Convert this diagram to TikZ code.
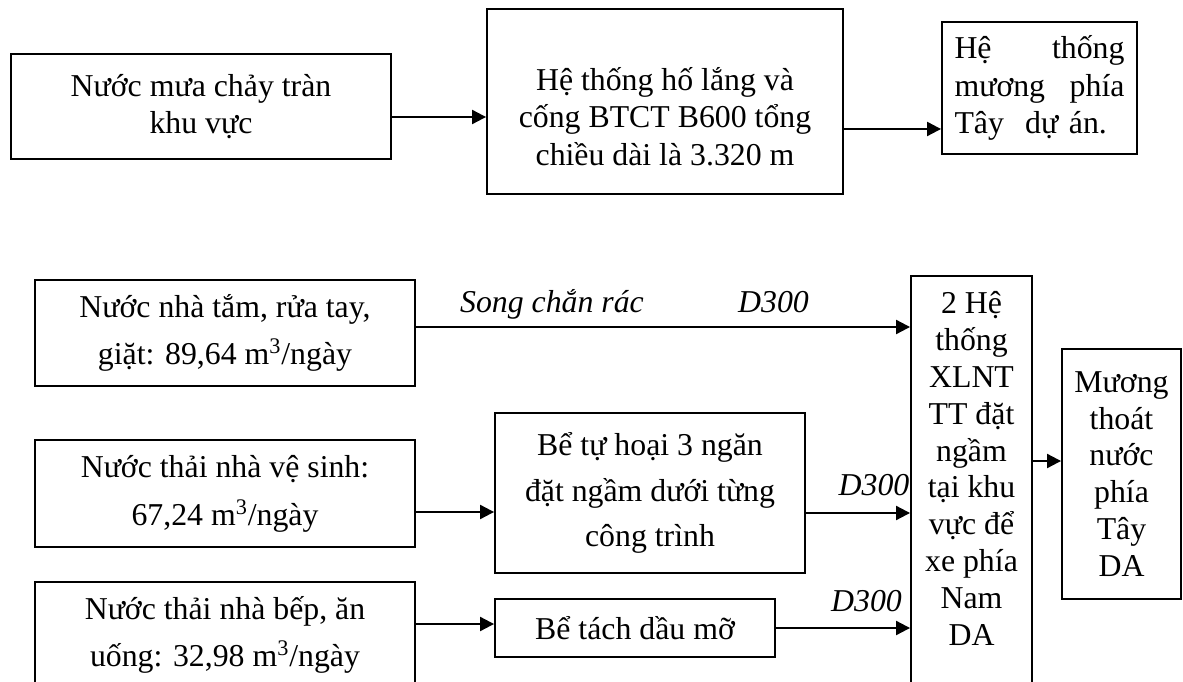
\documentclass[tikz,border=0pt]{standalone}
\usepackage{fontspec}
\setmainfont{Liberation Serif}
\usetikzlibrary{arrows.meta,positioning}

\tikzset{
  box/.style={draw, line width=1.1pt, align=center, inner sep=0pt},
  txt/.style={font=\fontsize{18.1pt}{21.5pt}\selectfont},
  flow/.style={-{Triangle[length=8pt,width=8pt]}, line width=1.2pt},
  pipe/.style={font=\fontsize{18.1pt}{21.5pt}\selectfont\itshape, inner sep=0pt, anchor=base}
}

\begin{document}
\begin{tikzpicture}[x=0.02cm, y=-0.02cm]
\useasboundingbox (0,0) rectangle (1183,682);
\clip (0,0) rectangle (1183,682);

% Rain water line
\node[box, txt, minimum width=7.6cm, minimum height=2.1cm] (mua) at (201,106.5) {Nước mưa chảy tràn\\khu vực};
\node[box, minimum width=7.12cm, minimum height=3.7cm] (holang) at (665,101.5) {};
\node[txt, align=center, inner sep=0pt] (holangtxt) at (665,116.5) {Hệ thống hố lắng và\\cống BTCT B600 tổng\\chiều dài là 3.320 m};
\node[box, txt, align=left, text width=3.4cm, minimum width=3.9cm, minimum height=2.64cm] (muongtay) at (1039.5,88) {Hệ\hfill thống\\mương\hfill phía\\Tây\ \ dự án.};

\draw[flow] ([yshift=-0.21cm]mua.east) -- ([yshift=-0.21cm]mua.east -| holang.west);
\draw[flow] ([yshift=-0.82cm]muongtay.west -| holang.east) -- ([yshift=-0.82cm]muongtay.west);

% Waste water sources
\node[box, font=\fontsize{18.1pt}{27.2pt}\selectfont, minimum width=7.6cm, minimum height=2.12cm] (tam) at (225,333) {Nước nhà tắm, rửa tay,\\giặt: 89,64 m\textsuperscript{3}/ngày};
\node[box, font=\fontsize{18.1pt}{27.2pt}\selectfont, minimum width=7.6cm, minimum height=2.14cm] (vesinh) at (225,493.5) {Nước thải nhà vệ sinh:\\67,24 m\textsuperscript{3}/ngày};
\node[box, font=\fontsize{18.1pt}{27.2pt}\selectfont, minimum width=7.6cm, minimum height=2.12cm] (bep) at (225,635) {Nước thải nhà bếp, ăn\\uống: 32,98 m\textsuperscript{3}/ngày};

% Pre-treatment
\node[box, font=\fontsize{18.1pt}{26pt}\selectfont, minimum width=6.2cm, minimum height=3.2cm] (tuhoai) at (650,493) {Bể tự hoại 3 ngăn\\đặt ngầm dưới từng\\công trình};
\node[box, txt, minimum width=5.6cm, minimum height=1.16cm] (tachdau) at (635,628) {Bể tách dầu mỡ};

% Treatment and outlet
\node[box, minimum width=2.42cm, minimum height=8.88cm] (xlnt) at (971.5,498) {};
\node[font=\fontsize{18.1pt}{21pt}\selectfont, align=center, inner sep=0pt, anchor=north] (xlnttxt) at (971.5,291) {2 Hệ\\thống\\XLNT\\TT đặt\\ngầm\\tại khu\\vực để\\xe phía\\Nam\\DA};
\node[box, font=\fontsize{18.1pt}{21pt}\selectfont, minimum width=2.38cm, minimum height=5cm] (muong) at (1121.5,474) {Mương\\thoát\\nước\\phía\\Tây\\DA};

\draw[flow] ([yshift=0.12cm]tam.east) -- ([yshift=0.12cm]tam.east -| xlnt.west);
\draw[flow] ([yshift=-0.37cm]vesinh.east) -- ([yshift=-0.37cm]vesinh.east -| tuhoai.west);
\draw[flow] ([yshift=0.22cm]bep.east) -- ([yshift=0.22cm]bep.east -| tachdau.west);
\draw[flow] ([yshift=-0.4cm]tuhoai.east) -- ([yshift=-0.4cm]tuhoai.east -| xlnt.west);
\draw[flow] (tachdau.east) -- (tachdau.east -| xlnt.west);
\draw[flow] ([yshift=0.26cm]muong.west -| xlnt.east) -- ([yshift=0.26cm]muong.west);

% Pipe labels
\node[pipe] (song) at (552,312) {Song chắn rác};
\node[pipe] (d1) at (773.5,312) {D300};
\node[pipe] (d2) at (874,495) {D300};
\node[pipe] (d3) at (866.5,611) {D300};

\end{tikzpicture}
\end{document}
